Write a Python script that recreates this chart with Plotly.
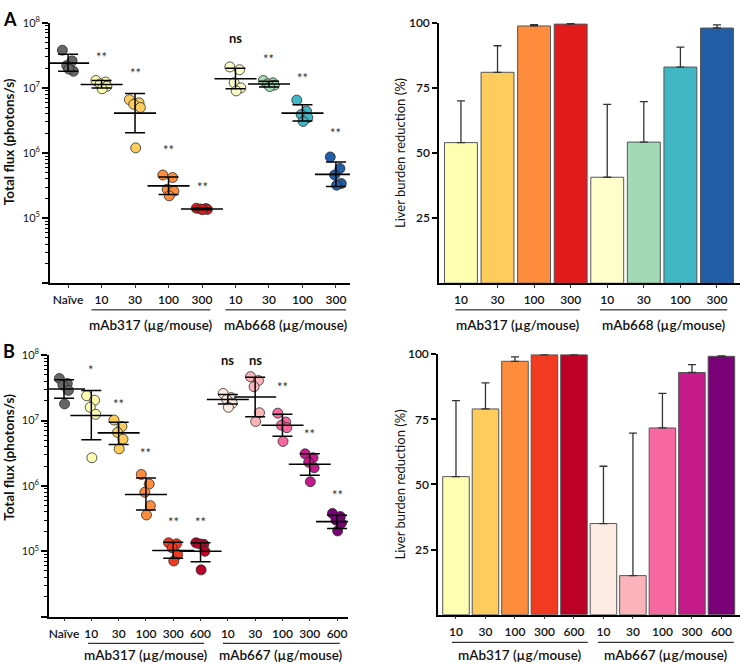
import plotly.graph_objects as go

FONT = "Lato"

# ---------------- Panel A data ----------------
A_LABELS = ["Naïve", "10", "30", "100", "300", "10", "30", "100", "300"]
A_COLORS = ["#666666", "#ffffb2", "#fecc5c", "#fd8d3c", "#e31a1c",
            "#ffffcc", "#a1dab4", "#41b6c4", "#225ea8"]
A_POINTS = [
    [3.8e7, 2.6e7, 2.2e7, 1.8e7, 1.95e7],
    [1.3e7, 1.23e7, 1.15e7, 1.06e7, 9.7e6],
    [6.6e6, 5.9e6, 5.6e6, 5.0e6, 1.2e6],
    [4.6e5, 4.2e5, 2.78e5, 2.6e5, 2.2e5],
    [1.42e5, 1.4e5, 1.38e5, 1.36e5, 1.35e5],
    [2.1e7, 1.9e7, 1.2e7, 1.0e7, 9.0e6],
    [1.3e7, 1.2e7, 1.15e7, 1.1e7, 1.05e7],
    [6.5e6, 4.4e6, 3.9e6, 3.5e6, 3.05e6],
    [8.7e5, 5.8e5, 4.6e5, 3.4e5, 3.2e5],
]
A_MEAN = [2.4e7, 1.13e7, 4.1e6, 3.13e5, 1.38e5, 1.38e7, 1.15e7, 4.1e6, 4.7e5]
A_UPPER = [3.3e7, 1.3e7, 8.2e6, 4.3e5, 1.42e5, 2.0e7, 1.27e7, 5.5e6, 7.3e5]
A_LOWER = [1.8e7, 1.0e7, 2.04e6, 2.3e5, 1.35e5, 9.7e6, 1.03e7, 3.1e6, 3.05e5]
A_SIG = ["", "**", "**", "**", "**", "ns", "**", "**", "**"]

A_BAR_LABELS = ["10", "30", "100", "300", "10", "30", "100", "300"]
A_BAR_COLORS = ["#ffffb2", "#fecc5c", "#fd8d3c", "#e31a1c",
                "#ffffcc", "#a1dab4", "#41b6c4", "#225ea8"]
A_BAR_VALUES = [54, 81, 98.8, 99.5, 40.7, 54.2, 83, 98]
A_BAR_TOP = [70, 91.2, 99.3, 99.7, 68.7, 69.7, 90.7, 99.2]

# ---------------- Panel B data ----------------
B_LABELS = ["Naïve", "10", "30", "100", "300", "600", "10", "30", "100", "300", "600"]
B_COLORS = ["#666666", "#ffffb2", "#fecc5c", "#fd8d3c", "#f03b20", "#bd0026",
            "#feebe2", "#fbb4b9", "#f768a1", "#c51b8a", "#7a0177"]
B_POINTS = [
    [4.4e7, 3.7e7, 3.5e7, 2.9e7, 1.8e7],
    [2.4e7, 2.05e7, 1.6e7, 1.25e7, 2.7e6],
    [1.02e7, 8.1e6, 6.6e6, 5.2e6, 3.7e6],
    [1.5e6, 1.07e6, 8.0e5, 5.0e5, 3.6e5],
    [1.35e5, 1.3e5, 1.13e5, 8.9e4, 7.1e4],
    [1.35e5, 1.28e5, 1.3e5, 1.0e5, 5.2e4],
    [2.6e7, 2.25e7, 2.1e7, 1.85e7, 1.6e7],
    [4.7e7, 4.1e7, 3.3e7, 1.32e7, 9.7e6],
    [1.3e7, 9.5e6, 8.5e6, 7.8e6, 4.8e6],
    [3.1e6, 2.7e6, 2.3e6, 1.9e6, 1.16e6],
    [3.8e5, 3.4e5, 3.0e5, 2.7e5, 2.05e5],
]
B_MEAN = [3.05e7, 1.2e7, 6.5e6, 7.4e5, 1.03e5, 1.0e5, 2.1e7, 2.3e7, 8.5e6, 2.15e6, 2.85e5]
B_UPPER = [4.2e7, 2.9e7, 9.45e6, 1.32e6, 1.38e5, 1.35e5, 2.5e7, 4.6e7, 1.25e7, 3.1e6, 3.55e5]
B_LOWER = [2.2e7, 5.1e6, 4.3e6, 4.3e5, 7.8e4, 6.9e4, 1.8e7, 1.15e7, 5.75e6, 1.46e6, 2.24e5]
B_SIG = ["", "*", "**", "**", "**", "**", "ns", "ns", "**", "**", "**"]

B_BAR_LABELS = ["10", "30", "100", "300", "600", "10", "30", "100", "300", "600"]
B_BAR_COLORS = ["#ffffb2", "#fecc5c", "#fd8d3c", "#f03b20", "#bd0026",
                "#feebe2", "#fbb4b9", "#f768a1", "#c51b8a", "#7a0177"]
B_BAR_VALUES = [53, 79, 97.3, 99.8, 99.8, 35, 15, 71.7, 93, 99.2]
B_BAR_TOP = [82.2, 89, 99, 99.9, 99.9, 57, 69.7, 85, 96, 99.4]

LOG_TICKS = [1e4, 1e5, 1e6, 1e7, 1e8]
LOG_TICKTEXT = ["", "10<sup>5</sup>", "10<sup>6</sup>", "10<sup>7</sup>", "10<sup>8</sup>"]

FLUX_TITLE = "Total flux (photons/s)"
BAR_TITLE = "Liver burden reduction (%)"

# ---------------- layout helpers ----------------
W, H = 740, 665
JIT = [-0.17, 0.12, -0.04, 0.16, 0.02]


def px_x(p):
    return p / W


def px_y(p):
    return 1 - p / H


fig = go.Figure()


def scatter_panel(n, points, colors, mean, upper, lower, sig, sig_y):
    xa, ya = "x%d" % n if n > 1 else "x", "y%d" % n if n > 1 else "y"
    for i, (pts, c) in enumerate(zip(points, colors)):
        fig.add_trace(go.Scatter(
            x=[i + JIT[j % len(JIT)] for j in range(len(pts))], y=pts,
            mode="markers", xaxis=xa, yaxis=ya, showlegend=False, hoverinfo="skip",
            marker=dict(size=10, color=c, line=dict(color="#2b2b2b", width=0.8))))
    fig.add_trace(go.Scatter(
        x=list(range(len(mean))), y=mean, mode="markers", xaxis=xa, yaxis=ya,
        showlegend=False, hoverinfo="skip",
        marker=dict(symbol="line-ew-open", size=30, color="black",
                    line=dict(color="black", width=1.6)),
        error_y=dict(type="data", symmetric=False,
                     array=[u - m for u, m in zip(upper, mean)],
                     arrayminus=[m - l for m, l in zip(mean, lower)],
                     color="black", thickness=1.5, width=10)))
    for i, (s, yv) in enumerate(zip(sig, sig_y)):
        if not s:
            continue
        fig.add_annotation(x=i, y=yv, xref=xa, yref=ya, text=s, showarrow=False,
                           font=dict(family=FONT, size=13,
                                     color="#111111" if s == "ns" else "#333333",
                                     weight=700 if s == "ns" else 400))


def bar_panel(n, colors, values, tops):
    xa, ya = "x%d" % n, "y%d" % n
    fig.add_trace(go.Bar(
        x=list(range(len(values))), y=values, xaxis=xa, yaxis=ya, showlegend=False,
        hoverinfo="skip",
        marker=dict(color=colors, line=dict(color="#555555", width=1)),
        error_y=dict(type="data", symmetric=False,
                     array=[t - v for t, v in zip(tops, values)],
                     arrayminus=[0] * len(values),
                     color="#333333", thickness=1.3, width=4)))


A_SIG_Y = [0, 7.47, 7.23, 6.05, 5.48, 7.76, 7.45, 7.15, 6.30]
B_SIG_Y = [0, 7.77, 7.26, 6.5, 5.45, 5.45, 7.93, 7.93, 7.51, 6.8, 5.855]

scatter_panel(1, A_POINTS, A_COLORS, A_MEAN, A_UPPER, A_LOWER, A_SIG, A_SIG_Y)
bar_panel(2, A_BAR_COLORS, A_BAR_VALUES, A_BAR_TOP)
scatter_panel(3, B_POINTS, B_COLORS, B_MEAN, B_UPPER, B_LOWER, B_SIG, B_SIG_Y)
bar_panel(4, B_BAR_COLORS, B_BAR_VALUES, B_BAR_TOP)

tickfont = dict(family=FONT, size=12, color="#111111", weight=600)
minor_vals = [k * 10 ** e for e in range(4, 8) for k in range(2, 10)]


def xaxis_cfg(domain, labels, rng, anchor):
    return dict(domain=domain, anchor=anchor, range=rng, tickvals=list(range(len(labels))),
                ticktext=labels, showline=True, linecolor="black", linewidth=1.5,
                ticks="outside", ticklen=3, tickwidth=1, tickcolor="#333333",
                showgrid=False, zeroline=False, tickfont=tickfont, ticklabelstandoff=2,
                fixedrange=True)


def logy_cfg(domain, anchor):
    return dict(domain=domain, anchor=anchor, type="log", range=[4, 8], tickvals=LOG_TICKS,
                ticktext=LOG_TICKTEXT, showline=True, linecolor="black", linewidth=1.5,
                ticks="outside", ticklen=6, tickwidth=1.5, tickcolor="black",
                minor=dict(tickvals=minor_vals, ticks="outside", ticklen=3, tickwidth=1,
                           tickcolor="black"),
                showgrid=False, zeroline=False,
                tickfont=dict(family=FONT, size=11, color="#111111"))


def bary_cfg(domain, anchor):
    return dict(domain=domain, anchor=anchor, range=[0, 100], tickvals=[25, 50, 75, 100],
                showline=True, linecolor="black", linewidth=1.5, ticks="outside", ticklen=5,
                tickwidth=1.5, tickcolor="black", showgrid=False, zeroline=False,
                tickfont=dict(family=FONT, size=12, color="#111111", weight=600))


dA = [px_y(278), px_y(14)]
dB = [px_y(616), px_y(351)]
dB2 = [px_y(614), px_y(350)]

fig.update_layout(
    width=W, height=H, margin=dict(l=0, r=0, t=0, b=0),
    paper_bgcolor="white", plot_bgcolor="white", bargap=0.1,
    font=dict(family=FONT, color="#111111"),
    xaxis=xaxis_cfg([px_x(50), px_x(350)], A_LABELS, [-0.54, 8.42], "y"),
    yaxis=logy_cfg(dA, "x"),
    xaxis2=xaxis_cfg([px_x(439), 1.0], A_BAR_LABELS, [-0.6, 7.63], "y2"),
    yaxis2=bary_cfg(dA, "x2"),
    xaxis3=xaxis_cfg([px_x(49), px_x(348)], B_LABELS, [-0.55, 10.4], "y3"),
    yaxis3=logy_cfg(dB, "x3"),
    xaxis4=xaxis_cfg([px_x(438), 1.0], B_BAR_LABELS, [-0.61, 9.63], "y4"),
    yaxis4=bary_cfg(dB2, "x4"),
)

# y-axis titles
for text, xp, yp, size, weight in [
    (FLUX_TITLE, 9, 135, 13.5, 700), (FLUX_TITLE, 9, 455, 13.5, 700),
    (BAR_TITLE, 400, 146, 13, 400), (BAR_TITLE, 400, 482, 13, 400),
]:
    fig.add_annotation(x=px_x(xp), y=px_y(yp), xref="paper", yref="paper", text=text,
                       textangle=-90, showarrow=False, xanchor="center", yanchor="middle",
                       font=dict(family=FONT, size=size, color="#111111", weight=weight))

# group brackets (line + label under the tick labels)
GROUPS = [
    ("x", 305, 320, [("mAb317 (µg/mouse)", 0.7, 4.25), ("mAb668 (µg/mouse)", 4.7, 8.3)]),
    ("x2", 305, 320, [("mAb317 (µg/mouse)", -0.15, 3.25), ("mAb668 (µg/mouse)", 3.8, 7.28)]),
    ("x3", 643, 655, [("mAb317 (µg/mouse)", 0.88, 5.13), ("mAb667 (µg/mouse)", 5.82, 10.1)]),
    ("x4", 642, 655, [("mAb317 (µg/mouse)", -0.14, 4.47), ("mAb667 (µg/mouse)", 4.81, 9.42)]),
]
for xa, ly, ty, groups in GROUPS:
    for text, x0, x1 in groups:
        fig.add_shape(type="line", xref=xa, yref="paper", x0=x0, x1=x1,
                      y0=px_y(ly), y1=px_y(ly), line=dict(color="black", width=1))
        fig.add_annotation(x=(x0 + x1) / 2, y=px_y(ty), xref=xa, yref="paper", text=text,
                           showarrow=False, yanchor="middle",
                           font=dict(family=FONT, size=13.5, color="#111111", weight=600))

for letter, yp in [("A", 10), ("B", 347)]:
    fig.add_annotation(x=px_x(1), y=px_y(yp), xref="paper", yref="paper", text=letter,
                       showarrow=False, xanchor="left", yanchor="middle",
                       font=dict(family=FONT, size=18, color="black", weight=700))

fig.write_html("out.html", config={"displayModeBar": False},
               post_script="document.body.style.margin='0';"
                           "document.body.style.overflow='hidden';")
